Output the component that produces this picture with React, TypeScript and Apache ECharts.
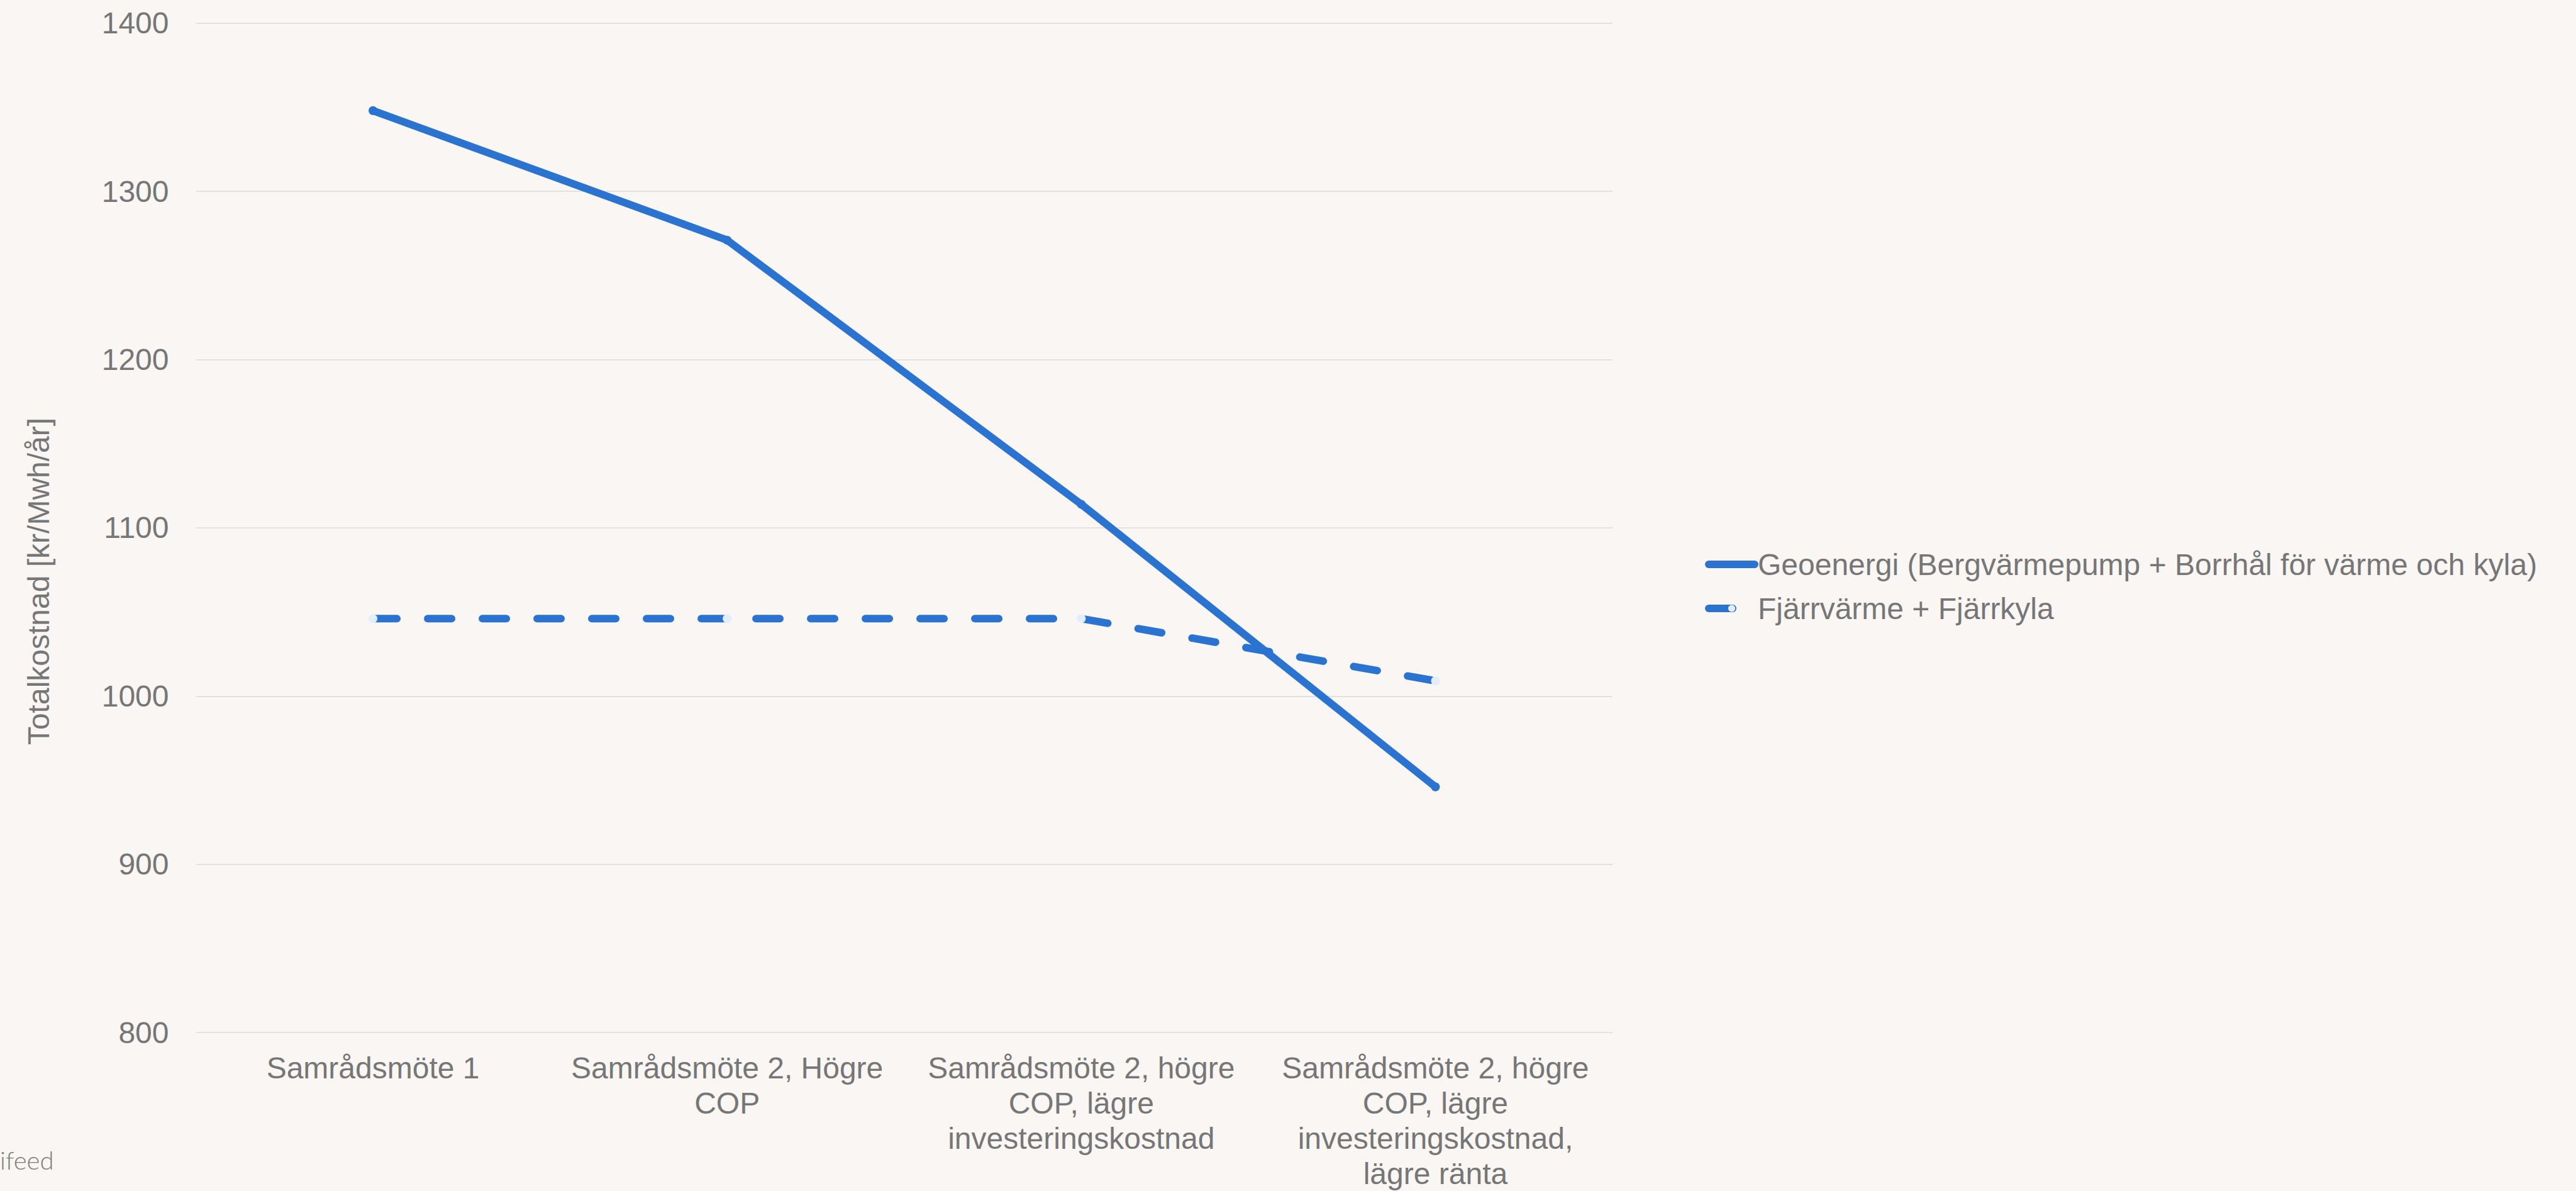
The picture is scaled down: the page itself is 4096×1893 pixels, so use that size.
import React, { useEffect, useRef } from "react";
import * as echarts from "echarts";

const categories = [
  "Samrådsmöte 1",
  "Samrådsmöte 2, Högre\nCOP",
  "Samrådsmöte 2, högre\nCOP, lägre\ninvesteringskostnad",
  "Samrådsmöte 2, högre\nCOP, lägre\ninvesteringskostnad,\nlägre ränta",
];
const geoName = "Geoenergi (Bergvärmepump + Borrhål för värme och kyla)";
const geoValues = [1348, 1271, 1114, 946];
const fjarrName = "Fjärrvärme + Fjärrkyla";
const fjarrValues = [1046, 1046, 1046, 1009];
const yMin = 800;
const yMax = 1400;
const yStep = 100;
const yAxisTitle = "Totalkostnad [kr/Mwh/år]";
const watermark = "ifeed";

const FONT = "'Liberation Sans', Arial, sans-serif";
const TEXT = "#767676";
const BLUE = "#2b73d0";

export default function App() {
  const ref = useRef<HTMLDivElement>(null);
  useEffect(() => {
    if (!ref.current) return;
    const chart = echarts.init(ref.current, undefined, { renderer: "svg" });
    chart.setOption({
      animation: false,
      backgroundColor: "#f9f6f3",
      textStyle: { fontFamily: FONT },
      grid: { left: 311.5, right: 1532, top: 36.8, bottom: 1893 - 1641.3, containLabel: false },
      legend: {
        orient: "vertical",
        left: 2706,
        top: 864,
        itemWidth: 73,
        itemHeight: 14,
        itemGap: 14,
        lineStyle: { width: 12, cap: "round" },
        textStyle: { color: TEXT, fontSize: 48, fontFamily: FONT, lineHeight: 56 },
        data: [geoName, fjarrName],
      },
      xAxis: {
        type: "category",
        data: categories,
        boundaryGap: true,
        axisLine: { show: false },
        axisTick: { show: false },
        axisLabel: {
          color: TEXT,
          fontSize: 48,
          fontFamily: FONT,
          lineHeight: 56,
          margin: 28,
          interval: 0,
          align: "center",
        },
      },
      yAxis: {
        type: "value",
        min: yMin,
        max: yMax,
        interval: yStep,
        axisLine: { show: false },
        axisTick: { show: false },
        axisLabel: {
          color: TEXT,
          fontSize: 48,
          fontFamily: FONT,
          margin: 43,
          formatter: (v: number) => String(v),
        },
        splitLine: { lineStyle: { color: "#e2e1df", width: 2 } },
      },
      series: [
        {
          name: geoName,
          type: "line",
          data: geoValues,
          symbol: "circle",
          symbolSize: 14,
          itemStyle: { color: BLUE },
          lineStyle: { color: BLUE, width: 12, cap: "round", join: "round" },
          z: 3,
        },
        {
          name: fjarrName,
          type: "line",
          data: fjarrValues,
          symbol: "circle",
          symbolSize: 14,
          itemStyle: { color: "#e2eefc", borderWidth: 0 },
          lineStyle: { color: BLUE, width: 12, type: [38, 49], cap: "round", join: "round" },
          z: 2,
        },
      ],
      graphic: [
        {
          type: "text",
          x: 61,
          y: 924,
          rotation: Math.PI / 2,
          style: {
            text: yAxisTitle,
            fill: TEXT,
            fontSize: 48,
            fontFamily: FONT,
            textAlign: "center",
            textVerticalAlign: "middle",
          },
        },
        {
          type: "text",
          x: 0,
          y: 1844,
          style: {
            text: watermark,
            fill: "#7a7a7a",
            fontSize: 40,
            fontWeight: 300,
            fontFamily: "Lato, 'Liberation Sans', sans-serif",
            textAlign: "left",
            textVerticalAlign: "middle",
          },
        },
      ],
    });
    return () => chart.dispose();
  }, []);
  return (
    <div
      ref={ref}
      style={{ position: "fixed", left: 0, top: 0, width: 4096, height: 1893 }}
    />
  );
}
